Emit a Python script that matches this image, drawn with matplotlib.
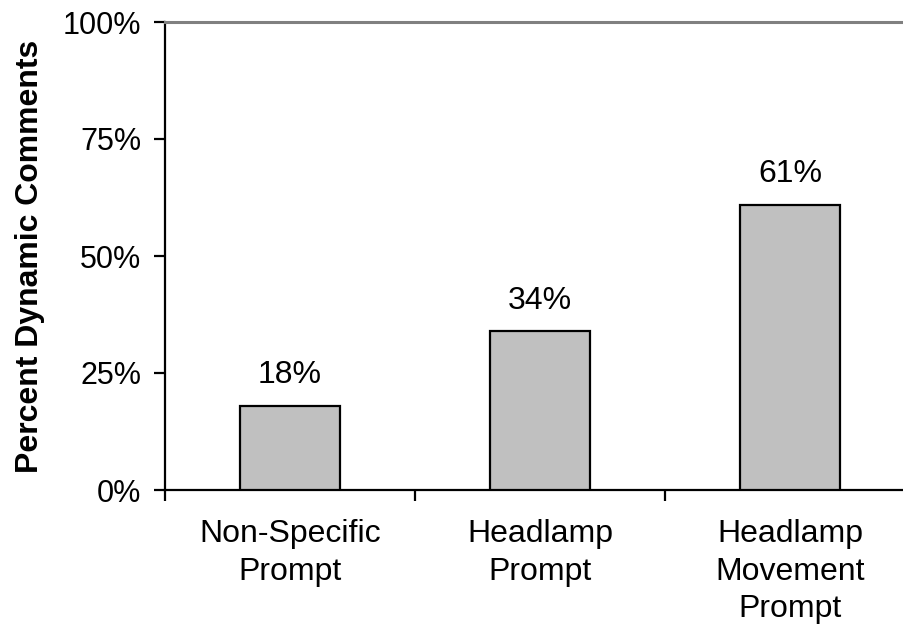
import matplotlib
matplotlib.use("Agg")
import matplotlib.pyplot as plt
from matplotlib.ticker import FixedLocator, PercentFormatter

plt.rcParams['font.family'] = ['Liberation Sans', 'DejaVu Sans']

categories = ["Non-Specific\nPrompt", "Headlamp\nPrompt", "Headlamp\nMovement\nPrompt"]
values = [18, 34, 61]
y_ticks = [0, 25, 50, 75, 100]
y_label = "Percent Dynamic Comments"

W, H = 904, 631
fig = plt.figure(figsize=(W / 100, H / 100), dpi=100)
ax = fig.add_axes([165 / W, 141 / H, 750 / W, 468 / H])

x = list(range(len(categories)))
ax.bar(x, values, width=0.4, color="#C0C0C0", edgecolor="black", linewidth=1.6, zorder=3)

for xi, v in zip(x, values):
    ax.annotate(f"{v}%", (xi, v), xytext=(0, 11), textcoords="offset points",
                ha="center", va="bottom", fontsize=23)

ax.set_xlim(-0.5, len(categories) - 0.5)
ax.set_ylim(0, 100)

ax.set_yticks(y_ticks)
ax.yaxis.set_major_formatter(PercentFormatter(decimals=0))
ax.tick_params(axis="y", length=8, width=1.6, pad=9, labelsize=22, direction="out")

ax.set_xticks(x)
ax.set_xticklabels(categories, fontsize=23, linespacing=1.32)
ax.tick_params(axis="x", which="major", length=0, pad=21)
ax.xaxis.set_minor_locator(FixedLocator([i - 0.5 for i in range(len(categories) + 1)]))
ax.tick_params(axis="x", which="minor", length=8, width=1.6, direction="out")

ax.set_ylabel(y_label, fontsize=23, fontweight="bold", labelpad=13)

ax.spines["left"].set_linewidth(1.6)
ax.spines["bottom"].set_linewidth(1.6)
ax.spines["top"].set_color("#808080")
ax.spines["top"].set_linewidth(2.2)
ax.spines["right"].set_visible(False)

fig.savefig("out.png", dpi=100)
